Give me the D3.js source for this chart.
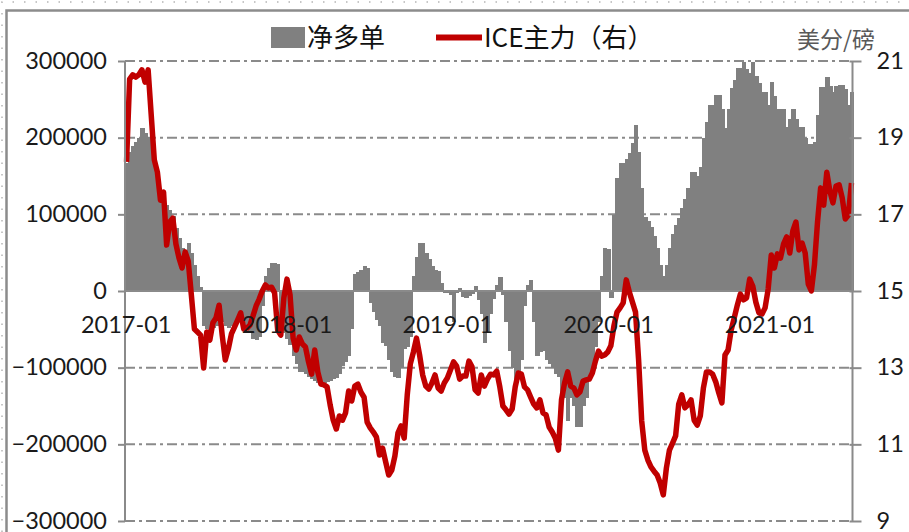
<!DOCTYPE html>
<html>
<head>
<meta charset="utf-8">
<script src="https://cdn.jsdelivr.net/npm/d3@7/dist/d3.min.js"></script>
<style>
  html, body { margin: 0; padding: 0; background: #fff; }
  svg { display: block; }
  .tick text { font-family: Lato, "Open Sans", sans-serif; font-size: 23.5px; fill: #1a1a1a; }
</style>
</head>
<body>
<svg id="chart" width="909" height="532"></svg>
<script>
// Weekly observations, first report date
const startDate = "2017-01-03";

// 净多单 (contracts), weekly
const netLong = [
  167000, 181000, 189000, 194000, 200000, 213000, 206000, 201000, 184000, 168000,
  151000, 132000, 123000, 112000, 106000, 98000, 82000, 69000, 56000, 53000,
  63000, 50000, 34000, 20000, 5000, -45000, -50000, -52000, -48000, -45000,
  -42000, -40000, -45000, -48000, -46000, -40000, -35000, -30000, -40000, -48000,
  -55000, -62000, -64000, -60000, -20000, 20000, 30000, 36000, 37000, 35000,
  -35000, -55000, -62000, -70000, -85000, -95000, -105000, -106000, -108000, -112000,
  -115000, -118000, -120000, -121000, -120000, -119000, -118000, -115000, -113000, -108000,
  -98000, -92000, -85000, -50000, 22000, 25000, 27000, 33000, 30000, -15000,
  -27000, -38000, -45000, -68000, -72000, -90000, -105000, -112000, -113000, -100000,
  -75000, -73000, -60000, 20000, 45000, 62000, 62000, 50000, 42000, 33000,
  27000, 26000, 10000, -3000, -3000, -5000, -40000, -3000, 4000, -8000,
  -9000, -6000, -4000, 7000, -12000, -30000, -68000, -55000, -30000, -10000,
  8000, 18000, -5000, -40000, -78000, -100000, -116000, -114000, -90000, -20000,
  8000, 14000, -40000, -85000, -80000, -78000, -90000, -95000, -100000, -108000,
  -112000, -140000, -140000, -170000, -140000, -150000, -178000, -178000, -150000, -140000,
  -116000, -100000, -73000, -40000, 20000, 56000, 55000, -9000, 99000, 147000,
  167000, 167000, 172000, 180000, 193000, 216000, 181000, 134000, 97000, 91000,
  83000, 72000, 56000, 34000, 20000, 34000, 56000, 75000, 86000, 95000,
  108000, 120000, 134000, 155000, 155000, 150000, 162000, 199000, 221000, 242000,
  242000, 256000, 256000, 237000, 213000, 238000, 265000, 275000, 291000, 291000,
  299000, 290000, 285000, 299000, 280000, 271000, 259000, 259000, 242000, 272000,
  254000, 237000, 237000, 237000, 214000, 225000, 238000, 225000, 214000, 214000,
  200000, 192000, 192000, 195000, 229000, 266000, 266000, 279000, 267000, 259000,
  267000, 269000, 269000, 263000, 242000, 260000
];

// ICE主力 (美分/磅), weekly
const icePrice = [
  18.37, 20.53, 20.64, 20.58, 20.64, 20.77, 20.45, 20.77, 19.59, 18.42,
  18.10, 17.37, 17.58, 16.20, 16.80, 16.90, 16.23, 15.86, 15.60, 16.02,
  15.78, 14.90, 14.01, 13.93, 13.85, 12.99, 13.93, 13.72, 14.17, 14.30,
  14.63, 13.85, 13.20, 13.49, 13.88, 14.06, 14.24, 14.43, 14.01, 14.03,
  14.11, 14.35, 14.61, 14.79, 15.00, 15.16, 15.08, 15.10, 14.95, 13.98,
  13.85, 14.82, 15.31, 14.90, 13.77, 13.46, 13.80, 13.62, 13.54, 13.15,
  12.83, 13.46, 12.89, 12.57, 12.55, 12.50, 12.03, 11.63, 11.40, 11.74,
  11.63, 11.82, 12.39, 12.13, 12.52, 12.57, 12.36, 12.23, 11.58, 11.43,
  11.32, 11.19, 10.72, 10.90, 10.54, 10.20, 10.33, 10.70, 11.30, 11.48,
  11.16, 12.29, 13.10, 13.41, 13.77, 13.33, 12.81, 12.52, 12.44, 12.60,
  12.81, 12.47, 12.39, 12.60, 12.73, 12.94, 13.15, 13.04, 12.70, 12.78,
  12.78, 13.17, 13.02, 12.42, 12.34, 12.81, 12.52, 12.70, 12.83, 12.81,
  12.91, 12.50, 12.00, 11.90, 11.79, 11.92, 12.50, 12.86, 12.83, 12.50,
  12.42, 12.23, 12.05, 11.95, 12.16, 11.82, 11.77, 11.45, 11.32, 11.16,
  10.85, 12.16, 12.60, 12.89, 12.52, 12.47, 12.29, 12.37, 12.65, 12.68,
  12.70, 12.86, 13.17, 13.43, 13.30, 13.33, 13.41, 13.57, 14.09, 14.45,
  14.56, 14.69, 15.29, 14.97, 14.71, 14.45, 13.20, 11.61, 10.85, 10.59,
  10.41, 10.30, 10.20, 9.99, 9.68, 10.38, 10.85, 11.03, 11.22, 12.05,
  12.29, 11.95, 12.03, 12.16, 11.63, 11.50, 11.74, 12.47, 12.89, 12.89,
  12.83, 12.63, 12.34, 12.08, 13.33, 13.46, 13.98, 14.30, 14.63, 14.92,
  14.77, 14.82, 15.31, 15.13, 14.71, 14.43, 14.40, 14.56, 15.05, 15.94,
  15.60, 15.97, 15.86, 16.23, 16.41, 15.99, 16.57, 16.80, 16.07, 16.25,
  15.99, 15.18, 15.00, 15.68, 16.80, 17.69, 17.24, 18.10, 17.61, 17.30,
  17.74, 17.77, 17.43, 16.88, 16.98, 17.82
];

const xTickLabels = ["2017-01", "2018-01", "2019-01", "2020-01", "2021-01"];
const leftTicks = [-300000, -200000, -100000, 0, 100000, 200000, 300000];
const rightTicks = [9, 11, 13, 15, 17, 19, 21];
const seriesNames = ["净多单", "ICE主力（右）"];
const unitLabel = "美分/磅";

// ---- layout ----
const plot = { left: 125, right: 853, top: 61, bottom: 521 };
const gridColor = "#8a8a8a";
const barColor = "#808080";
const lineColor = "#c00000";

const svg = d3.select("#chart");

const parseDay = d3.timeParse("%Y-%m-%d");
const parseMonth = d3.timeParse("%Y-%m");
const first = parseDay(startDate);
const dates = netLong.map((_, i) => d3.timeDay.offset(first, 7 * i));

const x = d3.scaleTime()
  .domain([d3.timeHour.offset(first, -84), d3.timeHour.offset(dates[dates.length - 1], 84)])
  .range([plot.left, plot.right]);
const yL = d3.scaleLinear().domain([-300000, 300000]).range([plot.bottom, plot.top]);
const yR = d3.scaleLinear().domain([9, 21]).range([plot.bottom, plot.top]);

// outer frame
const frame = svg.append("g");
frame.append("path")
  .attr("d", "M6.5,532 V10.5 H909")
  .attr("fill", "none").attr("stroke", "#8c8c8c").attr("stroke-width", 2.5);
frame.append("path")
  .attr("d", "M2,532 V2 H909")
  .attr("fill", "none").attr("stroke", "#b5b5b5").attr("stroke-width", 1.5)
  .attr("stroke-dasharray", "1.5,10");

// dash-dot gridlines
svg.append("g")
  .selectAll("line")
  .data(leftTicks.filter(v => v !== 0))
  .join("line")
  .attr("x1", plot.left).attr("x2", plot.right)
  .attr("y1", d => yL(d)).attr("y2", d => yL(d))
  .attr("stroke", gridColor).attr("stroke-width", 2)
  .attr("stroke-dasharray", "10,4,3,4");

// net long columns (slightly overlapped so adjacent weeks join up)
const barW = x(d3.timeDay.offset(first, 7)) - x(first);
svg.append("g")
  .attr("shape-rendering", "crispEdges")
  .selectAll("rect")
  .data(netLong)
  .join("rect")
  .attr("x", (d, i) => x(dates[i]) - barW / 2)
  .attr("width", barW + 1.2)
  .attr("y", d => Math.min(yL(d), yL(0)))
  .attr("height", d => Math.abs(yL(d) - yL(0)))
  .attr("fill", barColor);

// zero axis
svg.append("line")
  .attr("x1", plot.left).attr("x2", plot.right)
  .attr("y1", yL(0)).attr("y2", yL(0))
  .attr("stroke", gridColor).attr("stroke-width", 2);

// price line
svg.append("path")
  .datum(icePrice)
  .attr("fill", "none")
  .attr("stroke", lineColor)
  .attr("stroke-width", 5.5)
  .attr("stroke-linejoin", "round")
  .attr("d", d3.line().x((d, i) => x(dates[i])).y(d => yR(d)));

// left axis
const axL = svg.append("g")
  .attr("transform", `translate(${plot.left},0)`)
  .call(d3.axisLeft(yL).tickValues(leftTicks).tickSize(7).tickPadding(11)
    .tickFormat(d3.format("d")));
// right axis
const axR = svg.append("g")
  .attr("transform", `translate(${plot.right - 0.5},0)`)
  .call(d3.axisRight(yR).tickValues(rightTicks).tickSize(9).tickPadding(15)
    .tickFormat(d3.format("d")));
[axL, axR].forEach(g => {
  g.select(".domain").attr("stroke", gridColor).attr("stroke-width", 2)
    .attr("d", `M0,${plot.top}V${plot.bottom}`);
  g.selectAll(".tick line").attr("stroke", gridColor).attr("stroke-width", 2);
  g.selectAll(".tick text").attr("dy", "0.3em");
});
axR.selectAll(".tick line").attr("x1", -3);

// date labels below the zero line
const axX = svg.append("g")
  .attr("transform", `translate(0,${yL(0)})`)
  .call(d3.axisBottom(x)
    .tickValues(xTickLabels.map(parseMonth))
    .tickSize(0).tickPadding(25)
    .tickFormat(d3.timeFormat("%Y-%m")));
axX.select(".domain").remove();

// legend
const lg = svg.append("g");
lg.append("rect").attr("x", 271).attr("y", 27).attr("width", 34).attr("height", 21).attr("fill", barColor);
lg.append("text").attr("x", 307).attr("y", 47).text(seriesNames[0])
  .attr("font-family", "'Noto Sans CJK SC', sans-serif").attr("font-size", 26).attr("fill", "#111");
lg.append("line").attr("x1", 436).attr("x2", 482).attr("y1", 37.5).attr("y2", 37.5)
  .attr("stroke", lineColor).attr("stroke-width", 6);
lg.append("text").attr("x", 484).attr("y", 47).text(seriesNames[1])
  .attr("font-family", "'Noto Sans CJK SC', sans-serif").attr("font-size", 26).attr("fill", "#111");

// unit on the right axis
svg.append("text").attr("x", 875).attr("y", 48).attr("text-anchor", "end")
  .text(unitLabel)
  .attr("font-family", "'Noto Sans CJK SC', sans-serif").attr("font-size", 23).attr("fill", "#595959");
</script>
</body>
</html>
